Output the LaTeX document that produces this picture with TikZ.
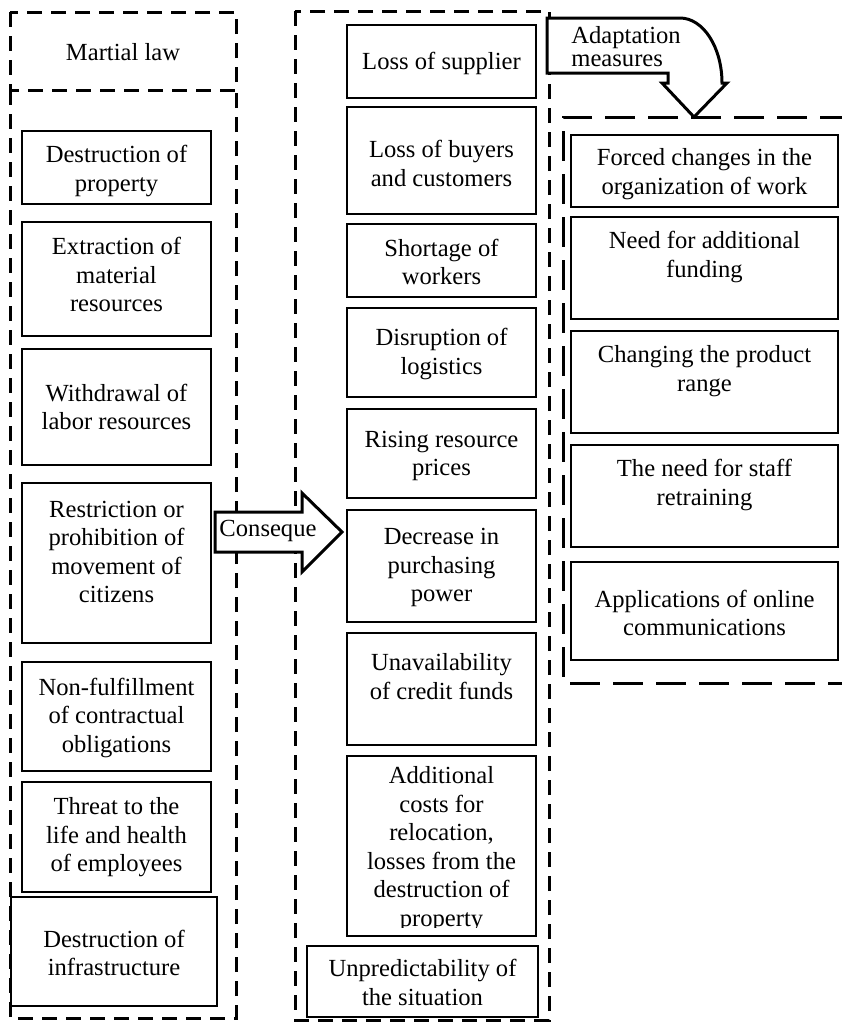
\documentclass[tikz,border=0pt]{standalone}
\usepackage{fontspec}
\setmainfont{Liberation Serif}
\begin{document}
\begin{tikzpicture}[x=0.5pt,y=-0.5pt,line join=miter,font=\fontsize{12.3}{14.25}\selectfont,
	cell/.style={line width=1.4pt},
	dashL/.style={line width=1.5pt,dash pattern=on 7.5pt off 4.5pt},
	dashR/.style={line width=1.5pt,dash pattern=on 15pt off 6.5pt},
	txt/.style={align=center,inner sep=0pt},
	blockarrow/.style={line width=1.5pt,fill=white}]
	\useasboundingbox (0,0) rectangle (841,1023);
	%Khung net dut
	\draw[dashL] (10,12) rectangle (236,90);
	\draw[dashL] (10,90)--(10,1018)--(236,1018)--(236,90);
	\draw[dashL] (295,11) rectangle (549,1020);
	\draw[dashR] (850,117)--(563,117)--(563,683)--(850,683);
	\node[txt] (law) at (123,52) {Martial law};
	%Cot trai
	\foreach \n/\ya/\yb/\ty/\t in {L1/131/204/171/{Destruction of\\property},
		L2/222/336/274.5/{Extraction of\\material\\resources},
		L3/349/465/407/{Withdrawal of\\labor resources},
		L4/483/643/552/{Restriction or\\prohibition of\\movement of\\citizens},
		L5/662/771/717.5/{Non-fulfillment\\of contractual\\obligations},
		L6/782/892/837.5/{Threat to the\\life and health\\of employees}}{
		\draw[cell] (22,\ya) rectangle (211,\yb);
		\node[txt] (\n) at (116.5,\ty) {\t};}
	\draw[cell] (11,897) rectangle (217,1006);
	\node[txt] (L7) at (114,953) {Destruction of\\infrastructure};
	%Cot giua
	\foreach \n/\ya/\yb/\ty/\t in {M1/25/98/63/{Loss of supplier},
		M2/107/214/163.5/{Loss of buyers\\and customers},
		M3/224/297/262/{Shortage of\\workers},
		M4/308/397/354/{Disruption of\\logistics},
		M5/409/498/456/{Rising resource\\prices},
		M6/510/622/567.5/{Decrease in\\purchasing\\power},
		M7/633/745/676.5/{Unavailability\\of credit funds}}{
		\draw[cell] (347,\ya) rectangle (536,\yb);
		\node[txt] (\n) at (441.5,\ty) {\t};}
	\draw[cell] (347,756) rectangle (536,936);
	\begin{scope}
		\clip (347,756) rectangle (536,927);
		\node[txt] (M8) at (441.5,849) {Additional\\costs for\\relocation,\\losses from the\\destruction of\\property};
	\end{scope}
	\draw[cell] (307,946) rectangle (538,1017);
	\node[txt] (M9) at (422.5,982.5) {Unpredictability of\\the situation};
	%Cot phai
	\foreach \n/\ya/\yb/\ty/\t in {R1/135/207/174/{Forced changes in the\\organization of work},
		R2/217/319/257/{Need for additional\\funding},
		R3/331/433/371/{Changing the product\\range},
		R4/445/547/485/{The need for staff\\retraining},
		R5/562/660/613/{Applications of online\\communications}}{
		\draw[cell] (571,\ya) rectangle (838,\yb);
		\node[txt] (\n) at (704.5,\ty) {\t};}
	%Mui ten
	\draw[blockarrow] (215,512)--(302,512)--(302,493)--(342,532)--(302,572)--(302,552)--(215,552)--cycle;
	\node[txt] (cons) at (268,531) {Conseque};
	\draw[blockarrow] (547,18)--(680,18) .. controls (703,18) and (722,47) .. (722,83)--(727,83)--(694,117)--(662,83)--(668,83)--(668,73)--(547,73)--cycle;
	\node[txt,align=left,anchor=west,font=\fontsize{12.3}{11.5}\selectfont] (adapt) at (571,46.5) {Adaptation\\measures};
\end{tikzpicture}
\end{document}
